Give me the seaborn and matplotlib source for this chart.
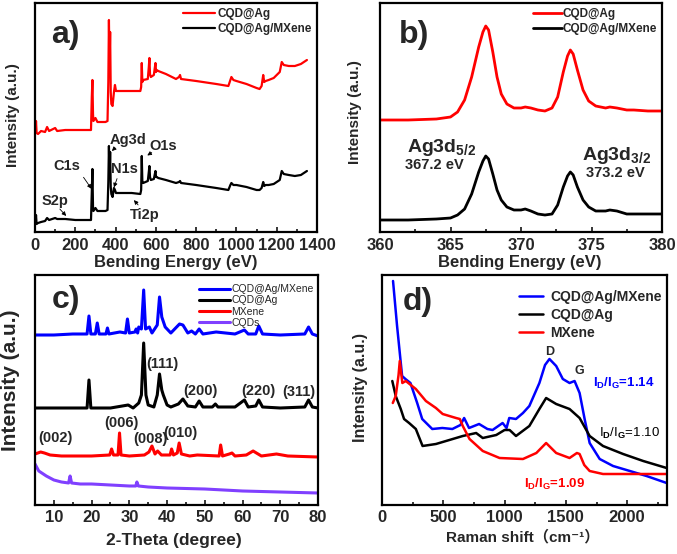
import numpy as np
import pandas as pd
import matplotlib
matplotlib.use("Agg")
import matplotlib.pyplot as plt
import seaborn as sns
from matplotlib.ticker import MultipleLocator

sns.set_theme(style="white")
plt.rcParams['font.family'] = ['Liberation Sans', 'DejaVu Sans', 'Noto Sans CJK SC']
plt.rcParams['font.weight'] = 'bold'
plt.rcParams['mathtext.fontset'] = 'custom'
plt.rcParams['mathtext.rm'] = 'Liberation Sans:bold'
plt.rcParams['mathtext.bf'] = 'Liberation Sans:bold'
plt.rcParams['mathtext.it'] = 'Liberation Sans:bold'

# ---------------- Panel a: XPS survey ----------------
a_x = [3, 5, 8, 15, 30, 50, 60, 70, 100, 110, 150, 200, 250, 278, 282, 285, 288, 290, 300, 310,
       350, 360, 364, 367, 370, 373, 376, 379, 385, 392, 397, 402, 480, 523, 527, 530, 533, 537,
       560, 565, 568, 571, 575, 590, 598, 601, 604, 612, 650, 700, 715, 720, 725, 800, 900, 960,
       970, 975, 985, 1000, 1050, 1100, 1115, 1125, 1133, 1138, 1145, 1160, 1185, 1200, 1215,
       1225, 1235, 1260, 1290, 1320, 1350]
a_cqdag = [100, 111, 99, 98, 101, 100, 105, 101, 104, 101, 102, 102, 102, 102, 135, 152, 118, 111,
           114, 110, 110, 111, 150, 212, 165, 200, 140, 128, 126, 140, 147, 141, 141, 141, 145, 169,
           150, 152, 153, 165, 174, 158, 155, 157, 169, 160, 162, 161, 158, 153, 155, 157, 153, 151,
           148, 146, 152, 155, 152, 151, 148, 144, 143, 146, 157, 150, 151, 152, 154, 157, 160, 170,
           167, 166, 166, 168, 172]
a_mxene = [10, 17, 8, 9, 10, 11, 14, 12, 14, 13, 13, 12, 12, 12, 40, 63, 25, 21, 24, 21, 21, 22,
           50, 86, 55, 80, 45, 38, 35, 44, 42, 39, 39, 38, 42, 76, 50, 49, 51, 60, 66, 55, 52, 53,
           61, 55, 55, 54, 52, 49, 50, 51, 49, 47, 44, 42, 47, 49, 47, 47, 45, 42, 42, 44, 50, 46,
           47, 47, 48, 50, 52, 61, 58, 57, 56, 57, 61]

# ---------------- Panel b: Ag 3d ----------------
b_x = [360, 362, 364, 365, 365.5, 366, 366.5, 367, 367.3, 367.5, 367.7, 368, 368.3, 368.6, 369,
       369.5, 370, 370.3, 370.7, 371.2, 371.7, 372.2, 372.6, 373, 373.3, 373.5, 373.7, 374, 374.4,
       374.8, 375.3, 376, 376.3, 376.8, 377.5, 378, 379, 380]
b_cqdag = [112, 112, 113, 115, 120, 132, 155, 185, 200, 206, 202, 180, 155, 138, 128, 124, 124,
           125, 124, 122, 121, 124, 135, 160, 176, 182, 178, 162, 142, 131, 126, 124, 125, 124,
           122, 122, 121, 121]
b_mxene = [12, 12, 13, 14, 17, 23, 38, 60, 71, 76, 73, 58, 42, 32, 25, 22, 22, 23, 21, 18, 17,
           18, 27, 45, 56, 60, 57, 45, 32, 25, 21, 21, 22, 21, 18, 18, 18, 18]

# ---------------- Panel c: XRD ----------------
c_blue_x = [5, 10, 15, 18.8, 19.3, 19.8, 21, 21.5, 22, 23.8, 24.2, 24.6, 27.5, 29, 29.5, 30, 31.5,
            31.8, 32.2, 32.5, 33.2, 33.8, 34.3, 35.3, 36, 37.4, 38, 38.6, 39.5, 41, 43.3, 44.2,
            45.5, 46.5, 47.5, 48.5, 49.5, 53, 58, 60.5, 61.5, 63.5, 64.3, 65.3, 70, 76.5, 77.5,
            78.5, 80]
c_blue_y = [170, 170, 171, 171, 189, 171, 171, 182, 171, 171, 177, 171, 173, 172, 186, 172, 173,
            176, 172, 178, 176, 215, 176, 178, 172, 180, 208, 188, 178, 172, 181, 180, 172, 174,
            171, 176, 171, 173, 171, 175, 171, 171, 179, 171, 170, 171, 178, 171, 169]
c_black_x = [5, 10, 15, 18.8, 19.3, 19.8, 25, 29.7, 31, 32.5, 33.2, 33.8, 34.4, 35, 36.5, 37.4, 38,
             38.6, 39, 40, 41, 43, 44.2, 45.5, 47.5, 48.5, 49.5, 52, 52.8, 53.5, 58, 60.5, 61.5,
             63.5, 64.3, 65.3, 70, 76.5, 77.5, 78.5, 80]
c_black_y = [97, 97, 97, 97, 125, 97, 97, 100, 97, 102, 110, 162, 110, 100, 98, 110, 131, 115, 110,
             100, 98, 101, 106, 99, 98, 104, 98, 98, 101, 98, 98, 105, 98, 99, 105, 98, 97, 98, 105,
             98, 97]
c_red_x = [5, 6.5, 7.5, 9, 12, 20, 24.8, 25.3, 25.8, 27, 27.4, 27.8, 30, 34, 35.2, 36, 36.8, 37.5,
           38.5, 40.8, 41.2, 41.7, 42.7, 43.2, 43.8, 46, 48, 53.8, 54.2, 54.7, 56.5, 57.2, 58, 61,
           62.8, 65, 69, 72, 80]
c_red_y = [51, 53, 52, 50, 49, 49, 50, 56, 50, 50, 72, 50, 49, 50, 53, 59, 51, 54, 50, 50, 56, 50,
           52, 62, 51, 49, 50, 49, 60, 49, 51, 52, 49, 50, 54, 49, 51, 49, 48]
c_purple_x = [5, 6, 8, 10, 12, 13.9, 14.3, 14.7, 17, 20, 25, 30, 31.7, 32, 32.4, 35, 40, 50, 60, 70, 80]
c_purple_y = [41, 34, 29, 25, 23, 22, 29, 22, 21, 21, 20, 19, 19, 23, 19, 18, 17, 16, 14, 13, 12]

# ---------------- Panel d: Raman ----------------
d_blue_x = [90, 123, 164, 191, 232, 287, 328, 410, 492, 574, 640, 670, 710, 792, 860, 902, 984,
            1016, 1038, 1093, 1150, 1202, 1284, 1330, 1366, 1421, 1475, 1530, 1571, 1612, 1653,
            1694, 1776, 1885, 2022, 2158, 2322]
d_blue_y = [224, 179, 129, 126, 122, 102, 86, 76, 77, 76, 80, 87, 77, 81, 76, 75, 82, 77, 87, 86,
            92, 99, 122, 140, 146, 139, 126, 122, 124, 112, 86, 62, 46, 39, 34, 29, 22]
d_black_x = [84, 112, 153, 180, 221, 276, 331, 440, 577, 659, 768, 822, 932, 1000, 1041, 1093,
             1202, 1284, 1339, 1421, 1530, 1612, 1694, 1803, 1967, 2131, 2322]
d_black_y = [124, 109, 96, 86, 82, 76, 59, 61, 66, 69, 72, 67, 70, 75, 75, 69, 79, 96, 107, 101,
             96, 87, 69, 59, 51, 44, 37]
d_red_x = [88, 112, 135, 145, 166, 194, 276, 358, 440, 495, 604, 635, 659, 714, 822, 959, 1150,
           1259, 1339, 1421, 1530, 1590, 1612, 1650, 1694, 1803, 2076, 2322]
d_red_y = [102, 109, 130, 144, 122, 124, 116, 104, 97, 91, 87, 86, 79, 66, 54, 47, 46, 52, 62, 52,
           47, 52, 51, 40, 34, 31, 31, 31]

RED = "#ff0000"
BLUE = "#0000ff"
PURPLE = "#8040ff"

W, H = 677, 554
fig = plt.figure(figsize=(W / 100, H / 100), dpi=100)


def axes_px(l, t, r, b):
    ax = fig.add_axes([l / W, 1 - b / H, (r - l) / W, (b - t) / H])
    ax.patch.set_visible(False)
    ax._px = (l, t, r, b)
    return ax


def px2ax(ax, x, y):
    l, t, r, b = ax._px
    return (x - l) / (r - l), (b - y) / (b - t)


def style(ax, size=12, pad=4.0):
    for s in ax.spines.values():
        s.set_linewidth(1.6)
        s.set_color("black")
    ax.set_yticks([])
    ax.tick_params(axis="x", which="both", direction="in", bottom=True, top=False,
                   labelsize=size, width=1.3, length=3.5, pad=pad)
    ax.tick_params(axis="x", which="minor", length=2.2)
    for lab in ax.get_xticklabels():
        lab.set_fontweight("bold")


def labels(ax, xl, xpos, xs, yl, ypos, ys):
    ax.set_xlabel(xl, fontsize=xs, fontweight="bold")
    ax.set_ylabel(yl, fontsize=ys, fontweight="bold")
    ax.xaxis.set_label_coords(*px2ax(ax, *xpos))
    ax.yaxis.set_label_coords(*px2ax(ax, *ypos))
    ax.xaxis.label.set_verticalalignment("center")
    ax.yaxis.label.set_verticalalignment("center")
    ax.xaxis.label.set_zorder(10)


def line(ax, x, y, color, label=None, lw=1.6):
    sns.lineplot(x=x, y=y, ax=ax, color=color, lw=lw, label=label, estimator=None, sort=False)


def panel_tag(ax, txt, x, y):
    ax.text(*px2ax(ax, x, y), txt, transform=ax.transAxes, fontsize=23, fontweight="bold",
            ha="left", va="baseline")


# ----- a -----
axa = axes_px(35, 3, 317, 232)
line(axa, a_x, a_cqdag, RED, "CQD@Ag")
line(axa, a_x, a_mxene, "black", "CQD@Ag/MXene")
axa.set_xlim(0, 1400)
axa.set_ylim(0, 229)
axa.xaxis.set_major_locator(MultipleLocator(200))
axa.xaxis.set_minor_locator(MultipleLocator(100))
style(axa)
labels(axa, "Bending Energy (eV)", (176, 263), 12, "Intensity (a.u.)", (13, 115), 11)
axa.legend(loc="upper right", bbox_to_anchor=(1.0, 1.0), frameon=False,
           prop={"size": 8.5, "weight": "bold"},
           handlelength=2.7, handletextpad=0.25, borderaxespad=0.0, labelspacing=0.25)
panel_tag(axa, "a)", 51, 43)
ann = dict(fontsize=10.5, fontweight="bold", ha="center", va="center")
arr = dict(arrowstyle="-|>", color="black", lw=0.6, mutation_scale=6)
for txt, tx, ty, ax_, ay_, fx, fy in [
    ("C1s", 159, 66, 288, 41, 233, 57),
    ("S2p", 99, 31, 164, 14, 114, 25),
    ("Ag3d", 462, 92, 372, 79, 407, 86),
    ("N1s", 442, 63, 387, 42, 412, 56),
    ("O1s", 636, 86, 546, 75, 591, 81),
    ("Ti2p", 546, 17, 482, 34, 521, 25),
]:
    axa.text(tx, ty, txt, **ann)
    axa.annotate("", xy=(ax_, ay_), xytext=(fx, fy), arrowprops=arr)

# ----- b -----
axb = axes_px(380, 3, 662, 232)
line(axb, b_x, b_cqdag, RED, "CQD@Ag", lw=2)
line(axb, b_x, b_mxene, "black", "CQD@Ag/MXene", lw=2)
axb.set_xlim(360, 380)
axb.set_ylim(0, 229)
axb.xaxis.set_major_locator(MultipleLocator(5))
axb.xaxis.set_minor_locator(MultipleLocator(2.5))
style(axb)
labels(axb, "Bending Energy (eV)", (520, 263), 12, "Intensity (a.u.)", (355, 112), 11)
axb.legend(loc="upper right", bbox_to_anchor=(1.0, 1.0), frameon=False,
           prop={"size": 8.5, "weight": "bold"},
           handlelength=2.4, handletextpad=0.1, borderaxespad=0.0, labelspacing=0.25)
panel_tag(axb, "b)", 399, 43)
axb.text(361.9, 85, "Ag3d$_{5/2}$", fontsize=14, fontweight="bold", va="center")
axb.text(361.8, 67, "367.2 eV", fontsize=10.5, fontweight="bold", va="center")
axb.text(374.3, 77, "Ag3d$_{3/2}$", fontsize=14, fontweight="bold", va="center")
axb.text(374.6, 59, "373.2 eV", fontsize=10.5, fontweight="bold", va="center")

# ----- c -----
axc = axes_px(35, 275, 318, 505)
line(axc, c_blue_x, c_blue_y, BLUE, "CQD@Ag/MXene", lw=2.2)
line(axc, c_black_x, c_black_y, "black", "CQD@Ag", lw=2.2)
line(axc, c_red_x, c_red_y, RED, "MXene", lw=2.2)
line(axc, c_purple_x, c_purple_y, PURPLE, "CQDs", lw=2.2)
axc.set_xlim(5, 80)
axc.set_ylim(0, 230)
axc.xaxis.set_major_locator(MultipleLocator(10))
axc.xaxis.set_minor_locator(MultipleLocator(5))
style(axc, pad=3.5)
labels(axc, "2-Theta (degree)", (174, 541), 12.5, "Intensity (a.u.)", (11, 380), 15)
axc.legend(loc="upper right", bbox_to_anchor=(1.0, 0.978), frameon=False,
           prop={"size": 7.5, "weight": "normal"},
           handlelength=3.0, handletextpad=0.15, borderaxespad=0.0, labelspacing=0.12)
panel_tag(axc, "c)", 52, 308)
for txt, tx, ty in [("(111)", 38.8, 141), ("(200)", 48.8, 114), ("(220)", 64.2, 114),
                    ("(311)", 74.8, 113), ("(002)", 10.5, 67), ("(006)", 28.0, 82),
                    ("(008)", 35.7, 66), ("(010)", 43.5, 72)]:
    axc.text(tx, ty, txt, fontsize=10.5, fontweight="bold", ha="center", va="center")

# ----- d -----
axd = axes_px(382, 275, 667, 505)
line(axd, d_blue_x, d_blue_y, BLUE, "CQD@Ag/MXene", lw=1.8)
line(axd, d_black_x, d_black_y, "black", "CQD@Ag", lw=1.8)
line(axd, d_red_x, d_red_y, RED, "MXene", lw=1.8)
axd.set_xlim(0, 2325)
axd.set_ylim(0, 230)
axd.xaxis.set_major_locator(MultipleLocator(500))
axd.xaxis.set_minor_locator(MultipleLocator(250))
style(axd, pad=3.5)
labels(axd, "Raman shift\uff08cm\u207b\u00b9\uff09", (523, 537), 11,
       "Intensity (a.u.)", (360, 387), 11.5)
axd.legend(loc="upper right", bbox_to_anchor=(1.0, 0.961), frameon=False,
           prop={"size": 10, "weight": "bold"},
           handlelength=1.7, handletextpad=0.5, borderaxespad=0.0, labelspacing=0.3)
panel_tag(axd, "d)", 403, 310)
axd.text(1370, 153, "D", fontsize=9, fontweight="bold", ha="center", va="center")
axd.text(1610, 134, "G", fontsize=9, fontweight="bold", ha="center", va="center")
axd.text(1720, 122, "I$_D$/I$_G$=1.14", fontsize=9.5, fontweight="bold", color=BLUE, va="center")
axd.text(1770, 72, "I$_D$/I$_G$=1.10", fontsize=9.5, fontweight="normal", color="black", va="center")
axd.text(1160, 21, "I$_D$/I$_G$=1.09", fontsize=9.5, fontweight="bold", color=RED, va="center")

fig.savefig("out.png", dpi=100)
